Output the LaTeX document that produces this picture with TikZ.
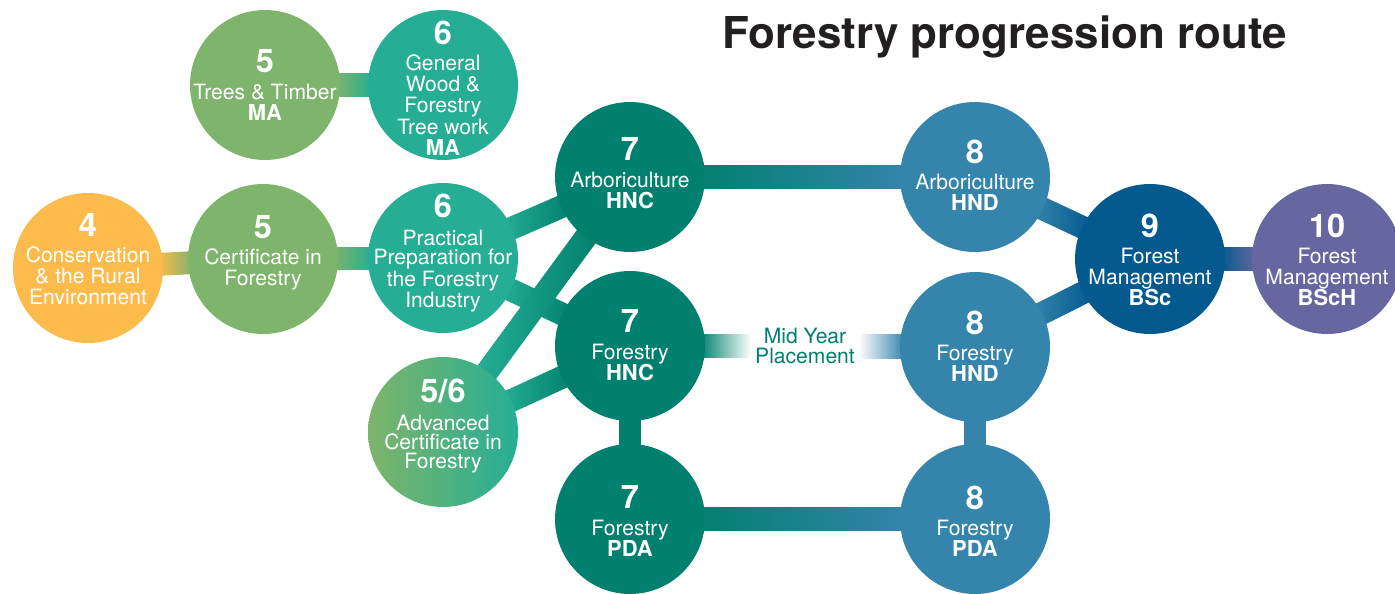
\documentclass[tikz,border=0pt]{standalone}
\usepackage{fontspec}
\setmainfont{TeX Gyre Heros}
\usetikzlibrary{calc}
\pgfdeclarelayer{bg}
\pgfsetlayers{bg,main}
\definecolor{orangeC}{HTML}{FDBB4B}
\definecolor{greenC}{HTML}{7EB46B}
\definecolor{tealL}{HTML}{25AE94}
\definecolor{tealM}{HTML}{00A088}
\definecolor{tealD}{HTML}{02806F}
\definecolor{tealB}{HTML}{04818F}
\definecolor{blueC}{HTML}{3484AB}
\definecolor{blueD}{HTML}{04598F}
\definecolor{purpleC}{HTML}{6666A0}
\definecolor{titleC}{HTML}{231F20}
\tikzset{
  lvl/.style={circle, minimum size=3cm, inner sep=0pt},
  lvltext/.style={align=center, text=white, inner sep=0pt,
    font=\fontsize{12}{12}\selectfont},
  lvltight/.style={lvltext, font=\fontsize{12}{11}\selectfont},
  midtext/.style={align=center, text=tealD, font=\fontsize{12}{11.5}\selectfont, inner sep=1pt},
  titletext/.style={anchor=base west, text=titleC, font=\fontsize{25}{25}\selectfont\bfseries, inner sep=0pt},
}
\newcommand\lnum[1]{{\fontsize{18.5}{18}\selectfont\bfseries #1}}
\newcommand\lcode[1]{{\fontsize{12.5}{12}\selectfont\bfseries #1}}
% connector band between two circle nodes
\newcommand\conn[3]{%
  \path ($(#1.center)!1.4cm!(#2.center)$) coordinate (tmpA)
        ($(#2.center)!1.4cm!(#1.center)$) coordinate (tmpB);
  \path[#3] ($(tmpA)!6.5pt!90:(tmpB)$) -- ($(tmpA)!6.5pt!-90:(tmpB)$)
        -- ($(tmpB)!6.5pt!90:(tmpA)$) -- ($(tmpB)!6.5pt!-90:(tmpA)$) -- cycle;}
\begin{document}
\begin{tikzpicture}[x=0.02cm, y=-0.02cm]
\useasboundingbox (0,0) rectangle (1395,593);
\clip (0,0) rectangle (1395,593);

\node[titletext] (title) at (722,48) {Forestry progression route};

\node[lvl, fill=orangeC] (c4) at (88,268) {};
\node[lvl, fill=greenC] (c5c) at (263,259) {};
\node[lvl, fill=greenC] (c5t) at (265,85) {};
\node[lvl, fill=tealL] (c6g) at (443,85) {};
\node[lvl, fill=tealL] (c6p) at (443,258) {};
\node[lvl, left color=greenC, right color=tealL] (c56) at (443,432) {};
\node[lvl, fill=tealD] (c7a) at (630,177) {};
\node[lvl, fill=tealD] (c7f) at (630,346) {};
\node[lvl, fill=tealD] (c7p) at (630,519) {};
\node[lvl, fill=blueC] (c8a) at (975,177) {};
\node[lvl, fill=blueC] (c8f) at (975,347) {};
\node[lvl, fill=blueC] (c8p) at (975,519) {};
\node[lvl, fill=blueD] (c9) at (1150,259) {};
\node[lvl, fill=purpleC] (c10) at (1327,259) {};

\node[lvltext] (t4) at ($(c4.center)+(0,-9)$) {\lnum{4}\\[3pt]Conservation\\\& the Rural\\Environment};
\node[lvltext] (t5c) at ($(c5c.center)+(0,-6)$) {\lnum{5}\\[3pt]Certificate in\\Forestry};
\node[lvltext] (t5t) at (c5t.center) {\lnum{5}\\[3pt]Trees \& Timber\\\lcode{MA}};
\node[lvltext] (t6g) at ($(c6g.center)+(0,3)$) {\lnum{6}\\[3pt]General\\Wood \&\\Forestry\\Tree work\\\lcode{MA}};
\node[lvltight] (t6p) at ($(c6p.center)+(0,-5)$) {\lnum{6}\\[5pt]Practical\\Preparation for\\the Forestry\\Industry};
\node[lvltight] (t56) at ($(c56.center)+(0,-6)$) {\lnum{5/6}\\[5pt]Advanced\\Certificate in\\Forestry};
\node[lvltext] (t7a) at ($(c7a.center)+(0,-4)$) {\lnum{7}\\[3pt]Arboriculture\\\lcode{HNC}};
\node[lvltext] (t7f) at ($(c7f.center)+(0,-1)$) {\lnum{7}\\[3pt]Forestry\\\lcode{HNC}};
\node[lvltext] (t7p) at ($(c7p.center)+(0,2)$) {\lnum{7}\\[3pt]Forestry\\\lcode{PDA}};
\node[lvltext] (t8a) at ($(c8a.center)+(0,-2)$) {\lnum{8}\\[3pt]Arboriculture\\\lcode{HND}};
\node[lvltext] (t8f) at ($(c8f.center)+(0,-1)$) {\lnum{8}\\[3pt]Forestry\\\lcode{HND}};
\node[lvltext] (t8p) at ($(c8p.center)+(0,2)$) {\lnum{8}\\[3pt]Forestry\\\lcode{PDA}};
\node[lvltext] (t9) at ($(c9.center)+(0,1)$) {\lnum{9}\\[3pt]Forest\\Management\\\lcode{BSc}};
\node[lvltext] (t10) at ($(c10.center)+(0,1)$) {\lnum{10}\\[3pt]Forest\\Management\\\lcode{BScH}};

\node[midtext] (mid) at (805,346) {Mid Year\\Placement};

\begin{pgfonlayer}{bg}
  \conn{c4}{c5c}{left color=orangeC, right color=greenC}
  \conn{c5c}{c6p}{left color=greenC, right color=tealL}
  \conn{c5t}{c6g}{left color=greenC, right color=tealL}
  \conn{c6p}{c7a}{left color=tealL, middle color=tealM, right color=tealD}
  \conn{c6p}{c7f}{left color=tealL, middle color=tealM, right color=tealD}
  \conn{c56}{c7f}{left color=tealL, middle color=tealM, right color=tealD}
  \conn{c56}{c7a}{left color=tealL, middle color=tealM, right color=tealD}
  \conn{c7a}{c8a}{left color=tealD, middle color=tealB, right color=blueC}
  \conn{c7p}{c8p}{left color=tealD, middle color=tealB, right color=blueC}
  \conn{c7f}{c7p}{fill=tealD}
  \conn{c8f}{c8p}{fill=blueC}
  \conn{c8a}{c9}{left color=blueC, right color=blueD}
  \conn{c8f}{c9}{left color=blueC, right color=blueD}
  \conn{c9}{c10}{left color=blueD, right color=purpleC}
  \path[left color=tealD, right color=white]
    ($(c7f.center)+(70,-11.5)$) rectangle ($(mid.west)+(-2,11.5)$);
  \path[left color=white, right color=blueC]
    ($(mid.east)+(2,-11.5)$) rectangle ($(c8f.center)+(-70,11.5)$);
\end{pgfonlayer}
\end{tikzpicture}
\end{document}
